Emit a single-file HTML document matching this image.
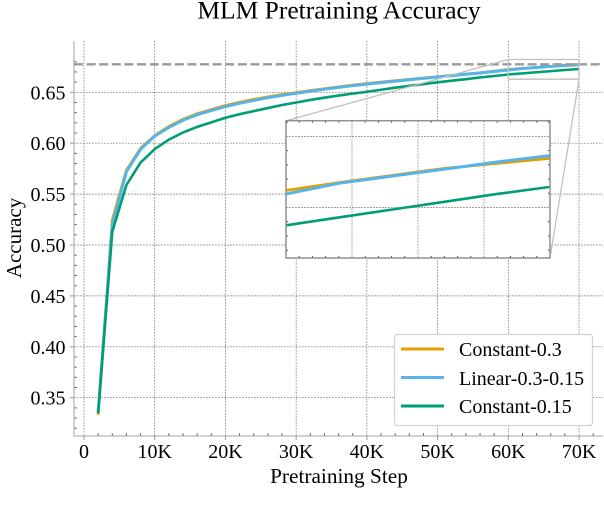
<!DOCTYPE html>
<html>
<head>
<meta charset="utf-8">
<style>
html,body{margin:0;padding:0;background:#fff;height:100%;overflow:hidden;}
svg{position:absolute;left:0;top:0;display:block;font-family:"Liberation Serif",serif;fill:#000;overflow:hidden;}
</style>
</head>
<body>
<svg id="chart" width="604" height="500" viewBox="0 0 604 500" xmlns="http://www.w3.org/2000/svg">
<g id="main"></g>
<text x="339" y="18.5" text-anchor="middle" font-size="25.5">MLM Pretraining Accuracy</text>
<text x="339" y="483" text-anchor="middle" font-size="21.3">Pretraining Step</text>
<text transform="translate(21,238) rotate(-90)" text-anchor="middle" font-size="21">Accuracy</text>
<g id="inset"></g>
<g>
<rect x="394.5" y="334.5" width="198" height="91" rx="3" fill="#fff" stroke="#d4d4d4" stroke-width="1.3"/>
<g>
<line x1="401" x2="444" y1="349" y2="349" stroke="#E69F00" stroke-width="3"/>
<text x="459" y="356" font-size="20">Constant-0.3</text>
</g>
<g>
<line x1="401" x2="444" y1="377.5" y2="377.5" stroke="#56B4E9" stroke-width="3"/>
<text x="459" y="385" font-size="20">Linear-0.3-0.15</text>
</g>
<g>
<line x1="401" x2="444" y1="406" y2="406" stroke="#009E73" stroke-width="3"/>
<text x="459" y="413" font-size="20">Constant-0.15</text>
</g>
</g>
</svg>
<script>
const steps = [2000,4000,6000,8000,10000,12000,14000,16000,18000,20000,22000,24000,26000,28000,30000,32000,34000,36000,38000,40000,42000,44000,46000,48000,50000,52000,54000,56000,58000,60000,62000,64000,66000,68000,70000];
const constant03 = [.333,.5245,.5735,.595,.6075,.6165,.6235,.629,.633,.637,.6402,.643,.6455,.6478,.6497,.6517,.6535,.6553,.657,.6586,.66,.6614,.6627,.664,.6653,.6666,.6679,.6692,.6708,.6724,.6735,.6745,.6755,.6762,.6769];
const linear = [.335,.52,.572,.594,.607,.6155,.6225,.628,.632,.636,.6392,.642,.6447,.647,.649,.651,.653,.6548,.6565,.658,.6595,.6609,.6623,.6637,.6651,.6664,.6677,.669,.6704,.6719,.6734,.6744,.6754,.6764,.6773];
const constant015 = [.335,.513,.559,.581,.5942,.6035,.6105,.616,.6205,.625,.6285,.6315,.6345,.6375,.64,.6425,.6447,.6468,.6487,.6505,.6525,.6545,.6563,.6581,.6598,.6614,.6629,.6646,.666,.6675,.6686,.6697,.6708,.6719,.6729];
const seriesNames = ['constant-0.3','linear-0.3-0.15','constant-0.15'];
const baseline = 0.6775;
const xTicks = [0,10000,20000,30000,40000,50000,60000,70000];
const xTickLabels = ['0','10K','20K','30K','40K','50K','60K','70K'];
const yTicks = [0.35,0.40,0.45,0.50,0.55,0.60,0.65];
const yTickLabels = ['0.35','0.40','0.45','0.50','0.55','0.60','0.65'];
const insetXRange = [60000,70000];
const insetYRange = [0.6629,0.6822];
const insetXTicks = [60000,62500,65000,67500,70000];
const insetYTicks = [0.67,0.68];

const NS = 'http://www.w3.org/2000/svg';
const colors = ['#E69F00','#56B4E9','#009E73'];
const widths = [2.8,3,2.6];
const mainG = document.getElementById('main');
const insetG = document.getElementById('inset');
const X = v => 84 + v * 70.72 / 10000;
const Y = v => 397.7 - (v - 0.35) * 1018;
const L = 286, R = 550, T = 120.7, B = 258;
const IX = v => L + (v - insetXRange[0]) / (insetXRange[1] - insetXRange[0]) * (R - L);
const IY = v => B - (v - insetYRange[0]) / (insetYRange[1] - insetYRange[0]) * (B - T);
function line(parent, x1, y1, x2, y2, stroke, w, dash) {
  const el = document.createElementNS(NS, 'line');
  el.setAttribute('x1', x1); el.setAttribute('y1', y1);
  el.setAttribute('x2', x2); el.setAttribute('y2', y2);
  el.setAttribute('stroke', stroke); el.setAttribute('stroke-width', w);
  if (dash) el.setAttribute('stroke-dasharray', dash);
  parent.appendChild(el);
  return el;
}
function label(parent, x, y, str, anchor) {
  const el = document.createElementNS(NS, 'text');
  el.setAttribute('x', x); el.setAttribute('y', y);
  el.setAttribute('text-anchor', anchor);
  el.setAttribute('font-size', '20');
  el.textContent = str;
  parent.appendChild(el);
  return el;
}
function series(parent, xf, yf, values, i, clip) {
  const el = document.createElementNS(NS, 'polyline');
  el.setAttribute('points', steps.map((s, k) => xf(s).toFixed(2) + ',' + yf(values[k]).toFixed(2)).join(' '));
  el.setAttribute('fill', 'none');
  el.setAttribute('stroke', colors[i]);
  el.setAttribute('stroke-width', widths[i]);
  el.setAttribute('stroke-linejoin', 'round');
  if (clip) el.setAttribute('clip-path', clip);
  parent.appendChild(el);
  return el;
}
const allSeries = [constant03, linear, constant015];

/* main grid */
const GRID = '#777', DASH = '1.8 1.2';
xTicks.forEach(v => {
  const el = line(mainG, X(v), 41, X(v), 435.5, GRID, 0.7, DASH);
  
  
});
yTicks.forEach(v => {
  const el = line(mainG, 74, Y(v), 603, Y(v), GRID, 0.7, DASH);
  
  
});
/* spines */
const spineL = line(mainG, 74, 41, 74, 436, '#b8b8b8', 1.3);


const spineB = line(mainG, 73.4, 436, 603, 436, '#b8b8b8', 1.3);


/* x ticks */
for (let v = -1; v <= 37; v++) {
  const val = v * 2000;
  if (X(val) < 75 || X(val) > 603) continue;
  const el = val % 10000 === 0
    ? line(mainG, X(val), 436, X(val), 440, '#999', 1)
    : line(mainG, X(val), 433.4, X(val), 435.4, '#444', 1);
  
  
}
/* y ticks */
for (let m = 32; m <= 68; m++) {
  const val = m / 100;
  if (Y(val) < 41 || Y(val) > 436) continue;
  const el = m % 5 === 0
    ? line(mainG, 70, Y(val), 74, Y(val), '#999', 1)
    : line(mainG, 74.6, Y(val), 76.6, Y(val), '#444', 1);
  
  
}
xTicks.forEach((v, i) => {
  const el = label(mainG, X(v), 458, xTickLabels[i], 'middle');
  
  
});
yTicks.forEach((v, i) => {
  const el = label(mainG, 65.5, Y(v) + 7, yTickLabels[i], 'end');
  
  
});
/* series */
allSeries.forEach((vals, i) => {
  const el = series(mainG, X, Y, vals, i);
  
  
});
/* baseline */
const base = line(mainG, 74, Y(baseline), 603, Y(baseline), '#999', 2.4, '9 3.6');



/* zoom indicator */
const ZB = '#c0c0c0';
const zx1 = X(insetXRange[0]), zx2 = X(insetXRange[1]), zy1 = Y(insetYRange[1]), zy2 = Y(insetYRange[0]);
[[zx1,zy1,zx2,zy1],[zx1,zy2,zx2,zy2],[zx1,zy1,zx1,zy2],[zx2,zy1,zx2,zy2]].forEach(s => {
  const el = line(mainG, s[0], s[1], s[2], s[3], ZB, 1.3);
  
  
});
const c1 = line(mainG, zx1, zy1, L, T, ZB, 1.3);


const c2 = line(mainG, zx2, zy2, R, B, ZB, 1.3);



/* inset */
const ibg = document.createElementNS(NS, 'rect');
ibg.setAttribute('x', L); ibg.setAttribute('y', T);
ibg.setAttribute('width', R - L); ibg.setAttribute('height', B - T);
ibg.setAttribute('fill', '#fff');


insetG.appendChild(ibg);
const cp = document.createElementNS(NS, 'clipPath');
cp.setAttribute('id', 'insetClip');
const cr = document.createElementNS(NS, 'rect');
cr.setAttribute('x', L); cr.setAttribute('y', T);
cr.setAttribute('width', R - L); cr.setAttribute('height', B - T);
cp.appendChild(cr);
insetG.appendChild(cp);
insetXTicks.forEach(v => {
  const el = line(insetG, IX(v), T, IX(v), B, GRID, 0.7, DASH);
  
  
});
insetYTicks.forEach(v => {
  const el = line(insetG, L, IY(v), R, IY(v), GRID, 0.7, DASH);
  
  
});
for (let m = 0; m <= 20; m++) {
  const val = 60000 + m * 500;
  if (m % 5 === 0) continue;
  [[B, B - 2], [T, T + 2]].forEach(p => {
    const el = line(insetG, IX(val), p[0], IX(val), p[1], '#444', 1);
    
    
  });
}
for (let m = 332; m <= 341; m++) {
  const val = m / 500;
  if (IY(val) < T || IY(val) > B || m % 5 === 0) continue;
  [[L, L + 2], [R, R - 2]].forEach(p => {
    const el = line(insetG, p[0], IY(val), p[1], IY(val), '#444', 1);
    
    
  });
}
allSeries.forEach((vals, i) => {
  const el = series(insetG, IX, IY, vals, i, 'url(#insetClip)');
  
  
});
const iframe = document.createElementNS(NS, 'rect');
iframe.setAttribute('x', L); iframe.setAttribute('y', T);
iframe.setAttribute('width', R - L); iframe.setAttribute('height', B - T);
iframe.setAttribute('fill', 'none');
iframe.setAttribute('stroke', '#909090');
iframe.setAttribute('stroke-width', '1.5');


insetG.appendChild(iframe);
</script>
</body>
</html>
